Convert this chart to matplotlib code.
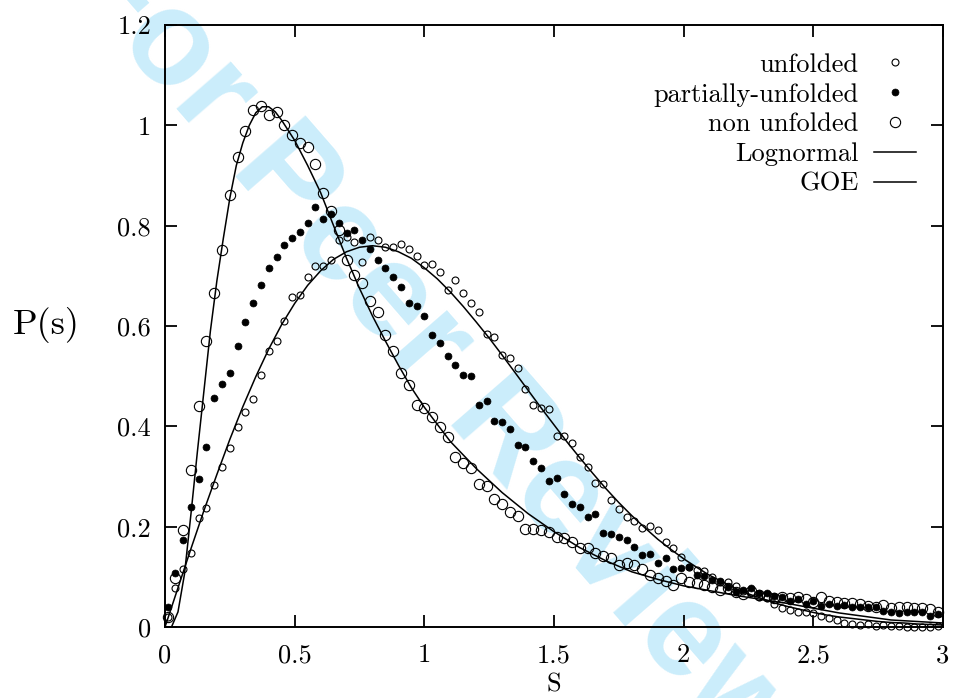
import numpy as np
import matplotlib
matplotlib.use("Agg")
import matplotlib.pyplot as plt

plt.rcParams['font.family'] = ['cmr10', 'DejaVu Serif']
plt.rcParams['axes.formatter.use_mathtext'] = True
plt.rcParams['axes.unicode_minus'] = False

# bin centres of the level spacing histograms
s_bins = [0.01, 0.04, 0.07, 0.10, 0.13, 0.16, 0.19, 0.22, 0.25, 0.28,
          0.31, 0.34, 0.37, 0.40, 0.43, 0.46, 0.49, 0.52, 0.55, 0.58,
          0.61, 0.64, 0.67, 0.70, 0.73, 0.76, 0.79, 0.82, 0.85, 0.88,
          0.91, 0.94, 0.97, 1.00, 1.03, 1.06, 1.09, 1.12, 1.15, 1.18,
          1.21, 1.24, 1.27, 1.30, 1.33, 1.36, 1.39, 1.42, 1.45, 1.48,
          1.51, 1.54, 1.57, 1.60, 1.63, 1.66, 1.69, 1.72, 1.75, 1.78,
          1.81, 1.84, 1.87, 1.90, 1.93, 1.96, 1.99, 2.02, 2.05, 2.08,
          2.11, 2.14, 2.17, 2.20, 2.23, 2.26, 2.29, 2.32, 2.35, 2.38,
          2.41, 2.44, 2.47, 2.50, 2.53, 2.56, 2.59, 2.62, 2.65, 2.68,
          2.71, 2.74, 2.77, 2.80, 2.83, 2.86, 2.89, 2.92, 2.95, 2.98]

unfolded = [0.020, 0.077, 0.115, 0.147, 0.218, 0.238, 0.283, 0.318, 0.356, 0.399,
            0.429, 0.454, 0.502, 0.550, 0.570, 0.610, 0.657, 0.661, 0.697, 0.719,
            0.719, 0.731, 0.771, 0.778, 0.768, 0.728, 0.778, 0.771, 0.758, 0.758,
            0.764, 0.754, 0.739, 0.721, 0.724, 0.708, 0.671, 0.691, 0.665, 0.645,
            0.628, 0.585, 0.578, 0.543, 0.537, 0.517, 0.475, 0.442, 0.436, 0.434,
            0.380, 0.380, 0.366, 0.338, 0.319, 0.287, 0.285, 0.253, 0.236, 0.220,
            0.212, 0.197, 0.201, 0.193, 0.170, 0.157, 0.140, 0.119, 0.114, 0.112,
            0.100, 0.090, 0.090, 0.082, 0.072, 0.070, 0.060, 0.058, 0.045, 0.037,
            0.034, 0.030, 0.030, 0.027, 0.021, 0.017, 0.014, 0.008, 0.007, 0.005,
            0.006, 0.003, 0.004, 0.002, 0.002, 0.001, 0.000, 0.000, 0.000, 0.002]

partially_unfolded = [0.040, 0.108, 0.173, 0.240, 0.295, 0.358, 0.457, 0.485, 0.507, 0.560,
                      0.608, 0.646, 0.681, 0.715, 0.738, 0.761, 0.776, 0.787, 0.805, 0.837,
                      0.814, 0.824, 0.805, 0.785, 0.792, 0.771, 0.754, 0.732, 0.715, 0.697,
                      0.678, 0.646, 0.639, 0.620, 0.582, 0.566, 0.540, 0.523, 0.503, 0.500,
                      0.442, 0.451, 0.411, 0.409, 0.394, 0.363, 0.359, 0.331, 0.316, 0.291,
                      0.297, 0.265, 0.245, 0.240, 0.220, 0.226, 0.188, 0.185, 0.180, 0.173,
                      0.160, 0.143, 0.145, 0.127, 0.137, 0.115, 0.117, 0.120, 0.104, 0.102,
                      0.094, 0.092, 0.079, 0.070, 0.074, 0.077, 0.067, 0.067, 0.062, 0.060,
                      0.052, 0.055, 0.046, 0.052, 0.042, 0.046, 0.042, 0.044, 0.039, 0.040,
                      0.040, 0.039, 0.032, 0.030, 0.028, 0.030, 0.030, 0.030, 0.022, 0.026]

non_unfolded = [0.020, 0.097, 0.193, 0.313, 0.440, 0.570, 0.665, 0.752, 0.862, 0.937,
                0.989, 1.031, 1.038, 1.020, 1.027, 1.000, 0.980, 0.965, 0.957, 0.922,
                0.865, 0.829, 0.791, 0.731, 0.701, 0.685, 0.650, 0.628, 0.582, 0.550,
                0.507, 0.482, 0.442, 0.436, 0.418, 0.399, 0.378, 0.339, 0.327, 0.316,
                0.285, 0.281, 0.256, 0.245, 0.230, 0.222, 0.195, 0.195, 0.193, 0.190,
                0.179, 0.177, 0.170, 0.157, 0.157, 0.148, 0.141, 0.137, 0.124, 0.127,
                0.124, 0.115, 0.104, 0.097, 0.092, 0.084, 0.097, 0.090, 0.087, 0.084,
                0.080, 0.074, 0.078, 0.070, 0.066, 0.072, 0.063, 0.062, 0.058, 0.060,
                0.058, 0.060, 0.055, 0.050, 0.060, 0.052, 0.050, 0.048, 0.047, 0.045,
                0.042, 0.040, 0.043, 0.037, 0.040, 0.040, 0.038, 0.037, 0.036, 0.030]

# fitted curves
lognormal_s = [0.0, 0.025, 0.05, 0.075, 0.1, 0.125, 0.15, 0.175, 0.2, 0.225, 0.25,
               0.275, 0.3, 0.325, 0.35, 0.375, 0.4, 0.425, 0.45, 0.5, 0.55, 0.6,
               0.65, 0.7, 0.75, 0.8, 0.85, 0.9, 0.95, 1.0, 1.1, 1.2, 1.3, 1.4, 1.5,
               1.6, 1.7, 1.8, 1.9, 2.0, 2.2, 2.4, 2.6, 2.8, 3.0]
lognormal_p = [0.0, 0.0, 0.03, 0.105, 0.225, 0.35, 0.47, 0.59, 0.69, 0.775, 0.855,
               0.92, 0.965, 1.0, 1.025, 1.037, 1.037, 1.027, 1.01, 0.97, 0.92, 0.866,
               0.80, 0.735, 0.675, 0.62, 0.57, 0.522, 0.477, 0.438, 0.37, 0.316, 0.268,
               0.226, 0.19, 0.158, 0.132, 0.11, 0.095, 0.082, 0.063, 0.047, 0.028,
               0.014, 0.008]

goe_s = [0.0, 0.05, 0.1, 0.15, 0.2, 0.25, 0.3, 0.35, 0.4, 0.45, 0.5, 0.55, 0.6,
         0.65, 0.7, 0.75, 0.8, 0.85, 0.9, 0.95, 1.0, 1.05, 1.1, 1.15, 1.2, 1.25,
         1.3, 1.35, 1.4, 1.45, 1.5, 1.55, 1.6, 1.65, 1.7, 1.75, 1.8, 1.85, 1.9,
         1.95, 2.0, 2.05, 2.1, 2.15, 2.2, 2.25, 2.3, 2.35, 2.4, 2.45, 2.5, 2.55,
         2.6, 2.65, 2.7, 2.75, 2.8, 2.85, 2.9, 2.95, 3.0]
goe_p = [0.0, 0.078, 0.156, 0.232, 0.304, 0.374, 0.439, 0.499, 0.554, 0.603, 0.645,
         0.681, 0.710, 0.733, 0.748, 0.757, 0.760, 0.757, 0.748, 0.735, 0.716, 0.694,
         0.668, 0.639, 0.608, 0.576, 0.542, 0.507, 0.472, 0.437, 0.403, 0.369, 0.337,
         0.306, 0.276, 0.248, 0.222, 0.198, 0.175, 0.155, 0.136, 0.119, 0.103, 0.090,
         0.077, 0.066, 0.057, 0.048, 0.041, 0.035, 0.029, 0.024, 0.020, 0.017, 0.014,
         0.011, 0.009, 0.008, 0.006, 0.005, 0.004]

x_ticks = [0, 0.5, 1, 1.5, 2, 2.5, 3]
x_tick_labels = ['0', '0.5', '1', '1.5', '2', '2.5', '3']
y_ticks = [0, 0.2, 0.4, 0.6, 0.8, 1.0, 1.2]
y_tick_labels = ['0', '0.2', '0.4', '0.6', '0.8', '1', '1.2']

fig = plt.figure(figsize=(9.56, 6.98), dpi=100)
ax = fig.add_axes([0.1726, 0.1017, 0.8138, 0.8625])
ax.set_facecolor('none')

# review watermark behind the plot
fig.text(432 / 956, 1 - 350 / 698, 'For Peer Review', rotation=-49,
         fontsize=97, fontweight='bold', family='Liberation Sans',
         color='#cbedfb', ha='center', va='center', rotation_mode='anchor',
         zorder=-1)

ax.plot(s_bins, unfolded, 'o', mfc='none', mec='black', ms=5.0, mew=0.8,
        label='unfolded', clip_on=False)
ax.plot(s_bins, partially_unfolded, 'o', mfc='black', mec='black', ms=5.0,
        mew=0.5, label='partially-unfolded', clip_on=False)
ax.plot(s_bins, non_unfolded, 'o', mfc='none', mec='black', ms=7.4, mew=0.8,
        label='non unfolded', clip_on=False)
ax.plot(lognormal_s, lognormal_p, '-', color='black', lw=1.1, label='Lognormal')
ax.plot(goe_s, goe_p, '-', color='black', lw=1.1, label='GOE')

ax.set_xlim(0, 3)
ax.set_ylim(0, 1.2)
ax.set_xticks(x_ticks)
ax.set_xticklabels(x_tick_labels)
ax.set_yticks(y_ticks)
ax.set_yticklabels(y_tick_labels)
ax.tick_params(direction='in', length=8.6, width=1.3, top=True, right=True,
               labelsize=19)
ax.tick_params(axis='x', pad=12)
ax.tick_params(axis='y', pad=10)
for sp in ax.spines.values():
    sp.set_linewidth(1.4)

ax.set_xlabel('S', fontsize=19)
ax.xaxis.set_label_coords(0.5, -0.076)
ax.set_ylabel('P(s)', fontsize=26, rotation=0, ha='center', va='center')
ax.yaxis.set_label_coords(-0.153, 0.502)

leg = ax.legend(loc='upper right', bbox_to_anchor=(0.9653, 0.9535),
                frameon=False, markerfirst=False, fontsize=19, numpoints=1,
                handlelength=1.6, handletextpad=0.58, labelspacing=0.23,
                borderpad=0, borderaxespad=0)

fig.savefig('out.png', dpi=100)
